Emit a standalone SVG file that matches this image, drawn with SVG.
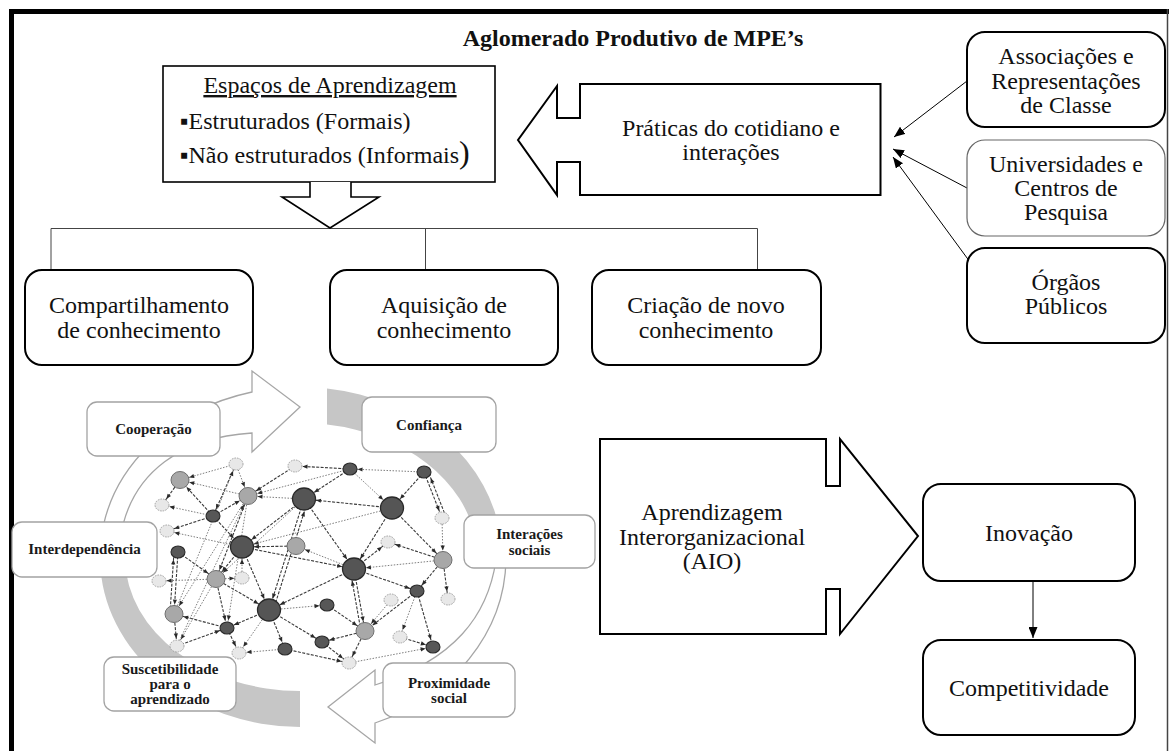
<svg xmlns="http://www.w3.org/2000/svg" width="1173" height="751" viewBox="0 0 1173 751">
<defs>
<style>
.t{font-family:"Liberation Serif","Times New Roman",serif;font-size:24px;fill:#111;text-anchor:middle}
.ts{font-family:"Liberation Serif","Times New Roman",serif;font-size:24px;fill:#111;text-anchor:start}
.tb{font-family:"Liberation Serif","Times New Roman",serif;font-size:24px;font-weight:bold;fill:#111;text-anchor:middle}
.lb{font-family:"Liberation Serif","Times New Roman",serif;font-size:15px;font-weight:bold;fill:#1a1a1a;text-anchor:middle}
.box{fill:#fff;stroke:#000;stroke-width:2}
.boxg{fill:#fff;stroke:#666;stroke-width:1.2}
.lbox{fill:#fff;stroke:#a3a3a3;stroke-width:1.3}
.blk{fill:#fff;stroke:#000;stroke-width:2;stroke-linejoin:miter}
.blk1{fill:#fff;stroke:#000;stroke-width:1.6;stroke-linejoin:miter}
.ring{fill:#c6c6c6;stroke:none}
.carr{fill:#fff;stroke:#a6a6a6;stroke-width:1.3}
.ed{stroke:#3a3a3a;stroke-width:1.1;stroke-dasharray:3 1.4;fill:none}
.el{stroke:#7e7e7e;stroke-width:1;stroke-dasharray:1.5 1.5;fill:none}
.nb{fill:#555;stroke:#2a2a2a;stroke-width:1.3}
.nd{fill:#575757;stroke:#2a2a2a;stroke-width:1.1}
.nm{fill:#a8a8a8;stroke:#707070;stroke-width:1}
.nl{fill:#e8e8e8;stroke:#9a9a9a;stroke-width:0.9;stroke-dasharray:1.6 1}
.cn{stroke:#000;stroke-width:1;fill:none}
.tree{stroke:#444;stroke-width:1;fill:none}
</style>
<marker id="mb" viewBox="0 0 5 5" refX="17" refY="2.5" markerWidth="5" markerHeight="5" markerUnits="userSpaceOnUse" orient="auto" overflow="visible"><path d="M0,0.4 L5,2.5 L0,4.6z" fill="#2a2a2a"/></marker>
<marker id="mm" viewBox="0 0 5 5" refX="14.5" refY="2.5" markerWidth="5" markerHeight="5" markerUnits="userSpaceOnUse" orient="auto" overflow="visible"><path d="M0,0.4 L5,2.5 L0,4.6z" fill="#2a2a2a"/></marker>
<marker id="ms" viewBox="0 0 5 5" refX="12.5" refY="2.5" markerWidth="5" markerHeight="5" markerUnits="userSpaceOnUse" orient="auto" overflow="visible"><path d="M0,0.4 L5,2.5 L0,4.6z" fill="#2a2a2a"/></marker>
<marker id="ah" viewBox="0 0 10 10" refX="10" refY="5" markerWidth="11" markerHeight="9" preserveAspectRatio="none" markerUnits="userSpaceOnUse" orient="auto"><path d="M0,0 L10,5 L0,10z" fill="#000"/></marker>
</defs>

<rect width="1173" height="751" fill="#fff"/>

<g id="frame">
<rect x="9" y="9" width="5" height="742" fill="#000"/>
<rect x="9" y="9" width="1160" height="5" fill="#000"/>
<line x1="1167.5" y1="9" x2="1167.5" y2="751" stroke="#444" stroke-width="1.5"/>
</g>

<g id="title"><text class="tb" x="633" y="46">Aglomerado Produtivo de MPE’s</text></g>

<g id="connectors">
<path class="tree" d="M51,270 V228.5 H757.5 V270 M425.5,228.5 V270"/>
<line class="cn" x1="967" y1="81" x2="894" y2="137" marker-end="url(#ah)"/>
<line class="cn" x1="967" y1="188" x2="893" y2="149" marker-end="url(#ah)"/>
<line class="cn" x1="970" y1="262" x2="893" y2="157" marker-end="url(#ah)"/>
<line class="cn" x1="1033" y1="582" x2="1033" y2="638" marker-end="url(#ah)"/>
</g>

<g id="espacos">
<rect class="blk1" x="163" y="66" width="332" height="116"/>
<path class="blk1" d="M310,182 V197 H282 L330,228 L379,197 H351 V182"/>
<text class="t" x="330" y="93" text-decoration="underline">Espaços de Aprendizagem</text>
<text class="ts" x="180" y="129">▪Estruturados (Formais)</text>
<text class="ts" x="180" y="163">▪Não estruturados (Informais<tspan font-size="32">)</tspan></text>
</g>

<g id="praticas">
<path class="blk" d="M880.5,84 H580 V118 H557 V86 L518,140 L557,195 V162 H580 V195 H880.5 Z"/>
<text class="t" x="731" y="136">Práticas do cotidiano e</text>
<text class="t" x="731" y="160">interações</text>
</g>

<g id="associacoes">
<rect class="box" x="967" y="32" width="198" height="95" rx="18"/>
<text class="t" x="1066" y="64">Associações e</text>
<text class="t" x="1066" y="88.5">Representações</text>
<text class="t" x="1066" y="113">de Classe</text>
</g>
<g id="universidades">
<rect class="boxg" x="967" y="140" width="198" height="96" rx="18"/>
<text class="t" x="1066" y="172">Universidades e</text>
<text class="t" x="1066" y="196">Centros de</text>
<text class="t" x="1066" y="220">Pesquisa</text>
</g>
<g id="orgaos">
<rect class="box" x="967" y="248" width="198" height="95" rx="18"/>
<text class="t" x="1066" y="290">Órgãos</text>
<text class="t" x="1066" y="314">Públicos</text>
</g>

<g id="compartilhamento">
<rect class="box" x="25" y="270" width="228" height="95" rx="17"/>
<text class="t" x="139" y="313">Compartilhamento</text>
<text class="t" x="139" y="338">de conhecimento</text>
</g>
<g id="aquisicao">
<rect class="box" x="330" y="270" width="228" height="95" rx="17"/>
<text class="t" x="444" y="313">Aquisição de</text>
<text class="t" x="444" y="338">conhecimento</text>
</g>
<g id="criacao">
<rect class="box" x="592" y="270" width="229" height="95" rx="17"/>
<text class="t" x="706" y="313">Criação de novo</text>
<text class="t" x="706" y="338">conhecimento</text>
</g>

<g id="cycle">
<path class="ring" d="M327,388.4 A201 170 0 0 1 501,540 L475.6,540 A176 134 0 0 0 327,424.5 Z"/>
<path class="ring" d="M100,560 A201 170 0 0 0 300,727 L300,691 A176 134 0 0 1 125,560 Z"/>
<path class="carr" d="M101,540 A201 170 0 0 1 252,392 L252,371 L300,407 L252,452 L252,433 C185,437 130,470 120,540 Z"/>
<path class="carr" d="M506,560 A205 178 0 0 1 375,723 L375,743 L328,707 L375,670 L375,685 C455,660 488,615 496,560 Z"/>
</g>

<g id="network">
<g id="network-edges">
<line class="el" x1="236" y1="464" x2="180" y2="480" marker-end="url(#mm)"/>
<line class="el" x1="248" y1="496" x2="180" y2="480" marker-end="url(#mm)"/>
<line class="ed" x1="213" y1="516" x2="180" y2="480" marker-end="url(#mm)"/>
<line class="ed" x1="180" y1="480" x2="162" y2="505" marker-end="url(#ms)"/>
<line class="el" x1="213" y1="516" x2="162" y2="505" marker-end="url(#ms)"/>
<line class="ed" x1="213" y1="516" x2="167" y2="531" marker-end="url(#ms)"/>
<line class="ed" x1="213" y1="516" x2="248" y2="496" marker-end="url(#mm)"/>
<line class="ed" x1="236" y1="464" x2="213" y2="516" marker-end="url(#ms)"/>
<line class="el" x1="236" y1="464" x2="248" y2="496" marker-end="url(#mm)"/>
<line class="ed" x1="213" y1="516" x2="242" y2="547" marker-end="url(#mb)"/>
<line class="ed" x1="295" y1="466" x2="248" y2="496" marker-end="url(#mm)"/>
<line class="ed" x1="350" y1="469" x2="295" y2="466" marker-end="url(#ms)"/>
<line class="el" x1="350" y1="469" x2="248" y2="496" marker-end="url(#mm)"/>
<line class="ed" x1="350" y1="469" x2="304" y2="499" marker-end="url(#mb)"/>
<line class="el" x1="424" y1="472" x2="350" y2="469" marker-end="url(#ms)"/>
<line class="el" x1="350" y1="469" x2="392" y2="508" marker-end="url(#mb)"/>
<line class="ed" x1="424" y1="472" x2="392" y2="508" marker-end="url(#mb)"/>
<line class="ed" x1="424" y1="472" x2="442" y2="518" marker-end="url(#ms)"/>
<line class="ed" x1="446" y1="517" x2="428" y2="471" marker-end="url(#ms)"/>
<line class="el" x1="442" y1="518" x2="443" y2="560" marker-end="url(#mm)"/>
<line class="ed" x1="392" y1="508" x2="304" y2="499" marker-end="url(#mb)"/>
<line class="el" x1="304" y1="499" x2="248" y2="496" marker-end="url(#mm)"/>
<line class="el" x1="392" y1="508" x2="242" y2="547" marker-end="url(#mb)"/>
<line class="ed" x1="392" y1="508" x2="354" y2="569" marker-end="url(#mb)"/>
<line class="ed" x1="392" y1="508" x2="443" y2="560" marker-end="url(#mm)"/>
<line class="ed" x1="304" y1="499" x2="242" y2="547" marker-end="url(#mb)"/>
<line class="ed" x1="304" y1="499" x2="269" y2="610" marker-end="url(#mb)"/>
<line class="ed" x1="273" y1="611" x2="308" y2="500" marker-end="url(#mb)"/>
<line class="ed" x1="304" y1="499" x2="354" y2="569" marker-end="url(#mb)"/>
<line class="el" x1="304" y1="499" x2="216" y2="579" marker-end="url(#mm)"/>
<line class="ed" x1="248" y1="496" x2="216" y2="579" marker-end="url(#mm)"/>
<line class="el" x1="248" y1="496" x2="174" y2="614" marker-end="url(#mm)"/>
<line class="el" x1="248" y1="496" x2="227" y2="628" marker-end="url(#ms)"/>
<line class="el" x1="242" y1="547" x2="167" y2="531" marker-end="url(#ms)"/>
<line class="ed" x1="296" y1="546" x2="242" y2="547" marker-end="url(#mb)"/>
<line class="el" x1="354" y1="569" x2="296" y2="546" marker-end="url(#mm)"/>
<line class="ed" x1="242" y1="547" x2="354" y2="569" marker-end="url(#mb)"/>
<line class="ed" x1="242" y1="547" x2="269" y2="610" marker-end="url(#mb)"/>
<line class="ed" x1="242" y1="547" x2="216" y2="579" marker-end="url(#mm)"/>
<line class="el" x1="242" y1="578" x2="242" y2="547" marker-end="url(#mb)"/>
<line class="ed" x1="178" y1="552" x2="174" y2="614" marker-end="url(#mm)"/>
<line class="ed" x1="170" y1="613" x2="174" y2="552" marker-end="url(#ms)"/>
<line class="ed" x1="178" y1="552" x2="216" y2="579" marker-end="url(#mm)"/>
<line class="el" x1="216" y1="579" x2="159" y2="581" marker-end="url(#ms)"/>
<line class="el" x1="216" y1="579" x2="242" y2="578" marker-end="url(#ms)"/>
<line class="ed" x1="216" y1="579" x2="269" y2="610" marker-end="url(#mb)"/>
<line class="ed" x1="216" y1="579" x2="227" y2="628" marker-end="url(#ms)"/>
<line class="el" x1="216" y1="579" x2="177" y2="646" marker-end="url(#ms)"/>
<line class="ed" x1="227" y1="628" x2="174" y2="614" marker-end="url(#mm)"/>
<line class="ed" x1="174" y1="614" x2="177" y2="646" marker-end="url(#ms)"/>
<line class="ed" x1="177" y1="646" x2="227" y2="628" marker-end="url(#ms)"/>
<line class="ed" x1="227" y1="628" x2="239" y2="653" marker-end="url(#ms)"/>
<line class="ed" x1="269" y1="610" x2="227" y2="628" marker-end="url(#ms)"/>
<line class="el" x1="269" y1="610" x2="239" y2="653" marker-end="url(#ms)"/>
<line class="ed" x1="269" y1="610" x2="285" y2="649" marker-end="url(#ms)"/>
<line class="el" x1="269" y1="610" x2="327" y2="605" marker-end="url(#ms)"/>
<line class="ed" x1="269" y1="610" x2="322" y2="642" marker-end="url(#ms)"/>
<line class="ed" x1="354" y1="569" x2="269" y2="610" marker-end="url(#mb)"/>
<line class="ed" x1="354" y1="569" x2="388" y2="542" marker-end="url(#ms)"/>
<line class="el" x1="443" y1="560" x2="354" y2="569" marker-end="url(#mb)"/>
<line class="ed" x1="354" y1="569" x2="417" y2="591" marker-end="url(#ms)"/>
<line class="ed" x1="354" y1="569" x2="365" y2="631" marker-end="url(#mm)"/>
<line class="ed" x1="361" y1="631" x2="350" y2="569" marker-end="url(#mb)"/>
<line class="ed" x1="443" y1="560" x2="388" y2="542" marker-end="url(#ms)"/>
<line class="ed" x1="443" y1="560" x2="417" y2="591" marker-end="url(#ms)"/>
<line class="ed" x1="443" y1="560" x2="448" y2="599" marker-end="url(#ms)"/>
<line class="ed" x1="417" y1="591" x2="365" y2="631" marker-end="url(#mm)"/>
<line class="ed" x1="417" y1="591" x2="433" y2="647" marker-end="url(#ms)"/>
<line class="el" x1="417" y1="591" x2="400" y2="637" marker-end="url(#ms)"/>
<line class="el" x1="391" y1="600" x2="365" y2="631" marker-end="url(#mm)"/>
<line class="ed" x1="327" y1="605" x2="365" y2="631" marker-end="url(#mm)"/>
<line class="ed" x1="365" y1="631" x2="322" y2="642" marker-end="url(#ms)"/>
<line class="ed" x1="365" y1="631" x2="349" y2="663" marker-end="url(#ms)"/>
<line class="ed" x1="322" y1="642" x2="349" y2="663" marker-end="url(#ms)"/>
<line class="el" x1="285" y1="649" x2="239" y2="653" marker-end="url(#ms)"/>
<line class="ed" x1="285" y1="649" x2="349" y2="663" marker-end="url(#ms)"/>
<line class="el" x1="349" y1="663" x2="433" y2="647" marker-end="url(#ms)"/>
<line class="ed" x1="400" y1="637" x2="433" y2="647" marker-end="url(#ms)"/>
<line class="el" x1="177" y1="646" x2="248" y2="496" marker-end="url(#mm)"/>
<line class="el" x1="174" y1="614" x2="236" y2="464" marker-end="url(#ms)"/>
</g>
<g id="network-nodes">
<ellipse class="nl" cx="236" cy="464" rx="7" ry="6"/>
<ellipse class="nl" cx="162" cy="505" rx="7" ry="6"/>
<ellipse class="nl" cx="295" cy="466" rx="7" ry="6"/>
<ellipse class="nl" cx="442" cy="518" rx="7" ry="6"/>
<ellipse class="nl" cx="167" cy="531" rx="7" ry="6"/>
<ellipse class="nl" cx="388" cy="542" rx="7" ry="6"/>
<ellipse class="nl" cx="159" cy="581" rx="7" ry="6"/>
<ellipse class="nl" cx="242" cy="578" rx="7" ry="6"/>
<ellipse class="nl" cx="448" cy="599" rx="7" ry="6"/>
<ellipse class="nl" cx="391" cy="600" rx="7" ry="6"/>
<ellipse class="nl" cx="400" cy="637" rx="7" ry="6"/>
<ellipse class="nl" cx="177" cy="646" rx="7" ry="6"/>
<ellipse class="nl" cx="239" cy="653" rx="7" ry="6"/>
<ellipse class="nl" cx="349" cy="663" rx="7" ry="6"/>
<ellipse class="nm" cx="180" cy="480" rx="9" ry="8.5"/>
<ellipse class="nm" cx="248" cy="496" rx="9" ry="8.5"/>
<ellipse class="nm" cx="296" cy="546" rx="9" ry="8.5"/>
<ellipse class="nm" cx="443" cy="560" rx="9" ry="8.5"/>
<ellipse class="nm" cx="216" cy="579" rx="9" ry="8.5"/>
<ellipse class="nm" cx="174" cy="614" rx="9" ry="8.5"/>
<ellipse class="nm" cx="365" cy="631" rx="9" ry="8.5"/>
<ellipse class="nd" cx="350" cy="469" rx="7" ry="6"/>
<ellipse class="nd" cx="424" cy="472" rx="7" ry="6"/>
<ellipse class="nd" cx="213" cy="516" rx="7" ry="6"/>
<ellipse class="nd" cx="178" cy="552" rx="7" ry="6"/>
<ellipse class="nd" cx="417" cy="591" rx="7" ry="6"/>
<ellipse class="nd" cx="327" cy="605" rx="7" ry="6"/>
<ellipse class="nd" cx="227" cy="628" rx="7" ry="6"/>
<ellipse class="nd" cx="322" cy="642" rx="7" ry="6"/>
<ellipse class="nd" cx="433" cy="647" rx="7" ry="6"/>
<ellipse class="nd" cx="285" cy="649" rx="7" ry="6"/>
<ellipse class="nb" cx="304" cy="499" rx="11.5" ry="11"/>
<ellipse class="nb" cx="392" cy="508" rx="11.5" ry="11"/>
<ellipse class="nb" cx="242" cy="547" rx="11.5" ry="11"/>
<ellipse class="nb" cx="354" cy="569" rx="11.5" ry="11"/>
<ellipse class="nb" cx="269" cy="610" rx="11.5" ry="11"/>
</g>
</g>

<g id="cooperacao"><rect class="lbox" x="87" y="402" width="133" height="54" rx="10"/><text class="lb" x="153.5" y="434">Cooperação</text></g>
<g id="confianca"><rect class="lbox" x="362" y="397" width="134" height="55" rx="10"/><text class="lb" x="429" y="430">Confiança</text></g>
<g id="interacoes-sociais"><rect class="lbox" x="464" y="515" width="131" height="53" rx="10"/><text class="lb" x="529.5" y="539">Interações</text><text class="lb" x="529.5" y="555">sociais</text></g>
<g id="interdependencia"><rect class="lbox" x="12" y="522" width="145" height="55" rx="10"/><text class="lb" x="84.5" y="554">Interdependência</text></g>
<g id="suscetibilidade"><rect class="lbox" x="104" y="657" width="132" height="54" rx="10"/><text class="lb" x="170" y="674">Suscetibilidade</text><text class="lb" x="170" y="689">para o</text><text class="lb" x="170" y="704">aprendizado</text></g>
<g id="proximidade"><rect class="lbox" x="383" y="663" width="132" height="54" rx="10"/><text class="lb" x="449" y="688">Proximidade</text><text class="lb" x="449" y="703">social</text></g>

<g id="aio">
<path class="blk" d="M600,439 H826 V486 H840 V439 L918,536 L840,634 V589 H826 V634 H600 Z"/>
<text class="t" x="712" y="520">Aprendizagem</text>
<text class="t" x="712" y="545">Interorganizacional</text>
<text class="t" x="712" y="569">(AIO)</text>
</g>

<g id="inovacao">
<rect class="box" x="923" y="484" width="212" height="97" rx="18"/>
<text class="t" x="1029" y="541">Inovação</text>
</g>
<g id="competitividade">
<rect class="box" x="923" y="640" width="212" height="95" rx="18"/>
<text class="t" x="1029" y="696">Competitividade</text>
</g>
</svg>
